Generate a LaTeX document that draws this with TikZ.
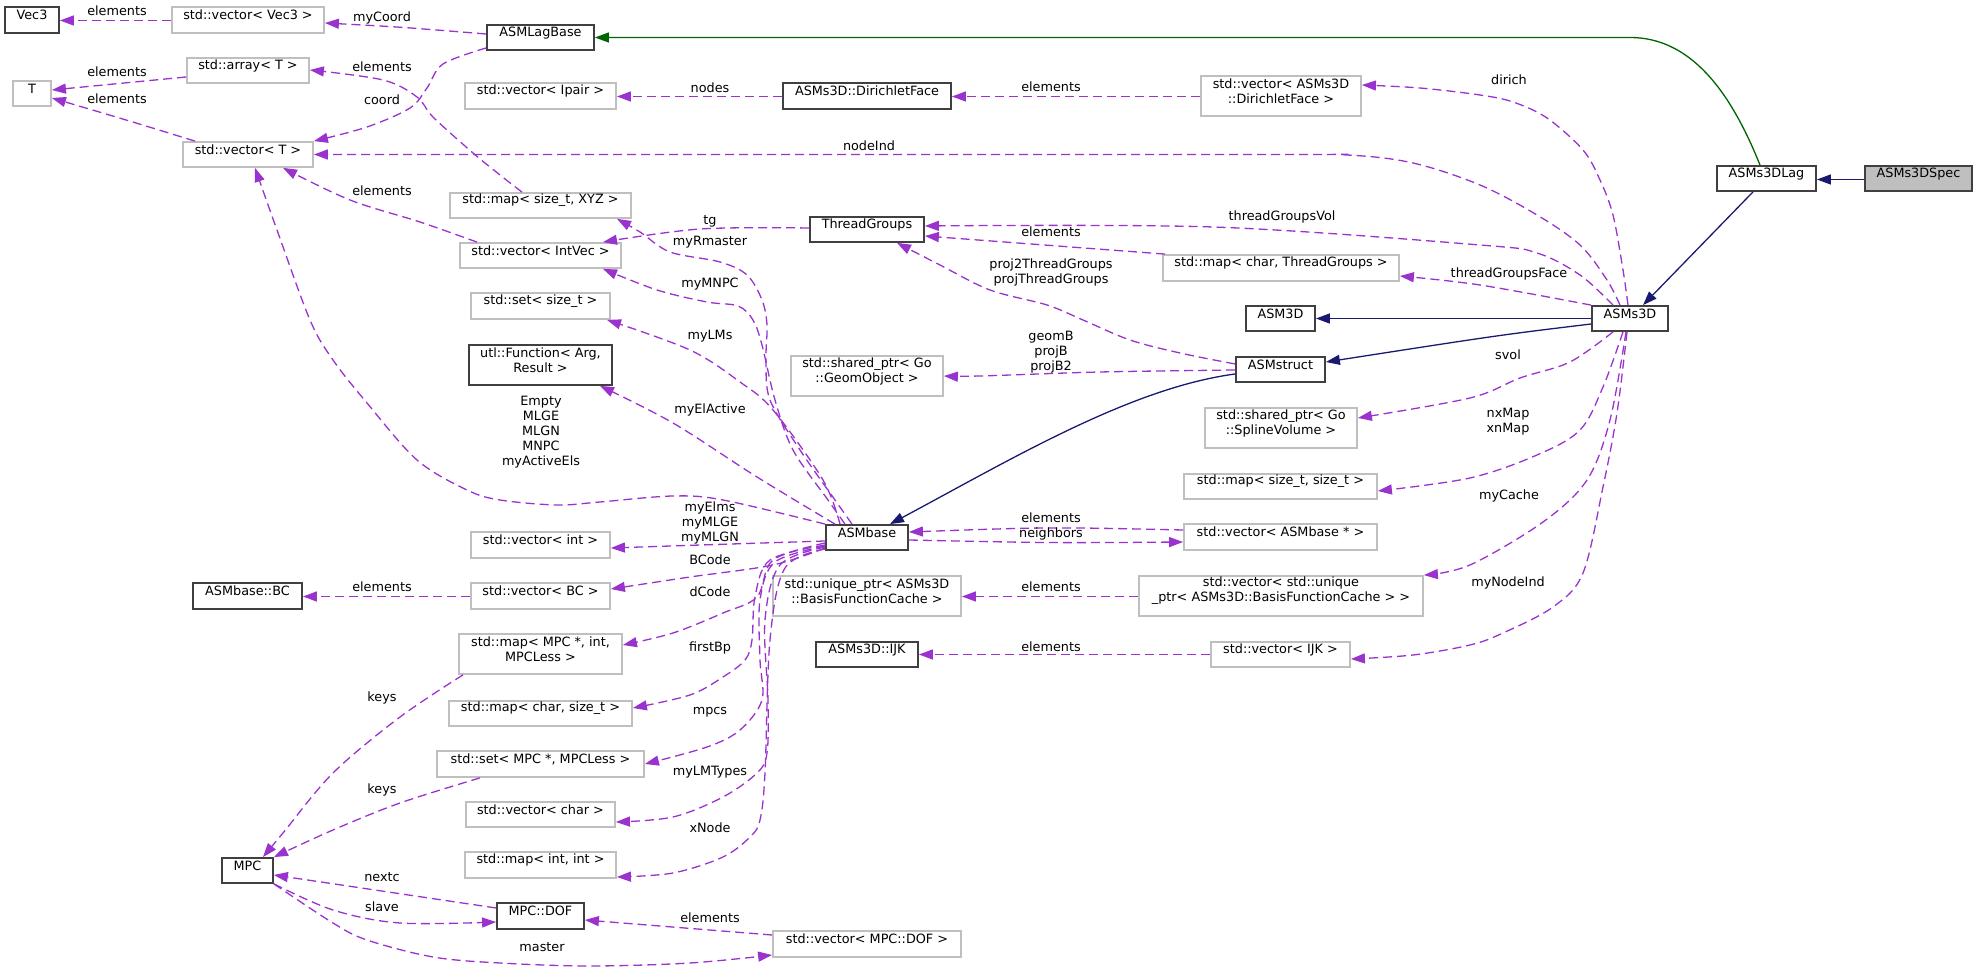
\documentclass[tikz,border=0pt]{standalone}
\usepackage{fontspec}
\setmainfont{DejaVu Sans}
\usetikzlibrary{arrows.meta,fit}
\definecolor{purp}{RGB}{154,50,205}
\definecolor{navyc}{RGB}{25,25,112}
\definecolor{greenc}{RGB}{0,100,0}
\definecolor{gbord}{RGB}{191,191,191}
\definecolor{bbord}{RGB}{64,64,64}
\begin{document}
\begin{tikzpicture}[x=0.5pt,y=-0.5pt,
  font=\fontsize{6.4}{7.5}\selectfont,
  bx/.style={draw=bbord,line width=0.9pt,fill=white,inner sep=0pt,align=center},
  gx/.style={draw=gbord,line width=0.9pt,fill=white,inner sep=0pt,align=center},
  lbl/.style={inner sep=0pt,align=center},
  dep/.style={draw=purp,line width=0.65pt,dash pattern=on 4.5pt off 2.5pt,-{Triangle[length=7pt,width=5pt]}},
  inh/.style={draw=navyc,line width=0.65pt,-{Triangle[length=7pt,width=5pt]}},
  inhg/.style={draw=greenc,line width=0.65pt,-{Triangle[length=7pt,width=5pt]}},
  sm/.style={smooth,tension=0.55}]
\useasboundingbox (0,0) rectangle (1977,972);
% ---------------- nodes ----------------
\node[bx,fit={(5,7)(59,33)}] (vec3) {Vec3};
\node[gx,fit={(172,7)(324,33)}] (vvec3) {std::vector< Vec3 >};
\node[bx,fit={(487,25)(594,50)}] (lagbase) {ASMLagBase};
\node[gx,fit={(187,58)(309,83)}] (arrT) {std::array< T >};
\node[gx,fit={(13,81)(51,106)}] (T) {T};
\node[gx,fit={(183,142)(313,167)}] (vecT) {std::vector< T >};
\node[gx,fit={(465,83)(616,109)}] (vipair) {std::vector< Ipair >};
\node[bx,fit={(783,83)(951,109)}] (dface) {ASMs3D::DirichletFace};
\node[gx,fit={(1201,76)(1361,116)}] (vdface) {std::vector< ASMs3D\\::DirichletFace >};
\node[gx,fit={(450,193)(631,218)}] (mapxyz) {std::map< size\_t, XYZ >};
\node[gx,fit={(460,243)(621,268)}] (vintvec) {std::vector< IntVec >};
\node[gx,fit={(471,293)(610,319)}] (setsize) {std::set< size\_t >};
\node[bx,fit={(810,217)(924,242)}] (tgroups) {ThreadGroups};
\node[gx,fit={(1163,255)(1399,281)}] (mapcharTG) {std::map< char, ThreadGroups >};
\node[bx,fit={(1246,306)(1315,331)}] (asm3d) {ASM3D};
\node[bx,fit={(1717,166)(1816,191)}] (lag) {ASMs3DLag};
\node[bx,fill=gbord,fit={(1865,166)(1972,191)}] (spec) {ASMs3DSpec};
\node[bx,fit={(1592,306)(1668,331)}] (asms3d) {ASMs3D};
\node[bx,fit={(469,345)(612,385)}] (func) {utl::Function< Arg,\\Result >};
\node[gx,fit={(791,356)(943,396)}] (geomobj) {std::shared\_ptr< Go\\::GeomObject >};
\node[bx,fit={(1236,357)(1325,382)}] (asmstruct) {ASMstruct};
\node[gx,fit={(1205,408)(1357,448)}] (splvol) {std::shared\_ptr< Go\\::SplineVolume >};
\node[gx,fit={(1184,474)(1377,499)}] (mapsize) {std::map< size\_t, size\_t >};
\node[gx,fit={(471,532)(610,558)}] (vint) {std::vector< int >};
\node[bx,fit={(826,525)(908,550)}] (asmbase) {ASMbase};
\node[gx,fit={(1184,524)(1377,550)}] (vasmbase) {std::vector< ASMbase * >};
\node[bx,fit={(193,583)(302,609)}] (bc) {ASMbase::BC};
\node[gx,fit={(471,583)(610,609)}] (vbc) {std::vector< BC >};
\node[gx,fit={(773,576)(961,616)}] (uptr) {std::unique\_ptr< ASMs3D\\::BasisFunctionCache >};
\node[gx,align=left,fit={(1139,576)(1423,616)}] (vuptr) {std::vector< std::unique\\\_ptr< ASMs3D::BasisFunctionCache > >};
\node[gx,fit={(459,634)(622,674)}] (mapmpc) {std::map< MPC *, int,\\MPCLess >};
\node[bx,fit={(816,642)(918,667)}] (ijk) {ASMs3D::IJK};
\node[gx,fit={(1211,642)(1350,667)}] (vijk) {std::vector< IJK >};
\node[gx,fit={(449,701)(632,726)}] (mapchar) {std::map< char, size\_t >};
\node[gx,fit={(437,751)(644,777)}] (setmpc) {std::set< MPC *, MPCLess >};
\node[gx,fit={(466,802)(615,827)}] (vchar) {std::vector< char >};
\node[gx,fit={(465,852)(616,878)}] (mapint) {std::map< int, int >};
\node[bx,fit={(222,858)(273,883)}] (mpc) {MPC};
\node[bx,fit={(497,903)(584,929)}] (dof) {MPC::DOF};
\node[gx,fit={(773,931)(961,957)}] (vdof) {std::vector< MPC::DOF >};
% ---------------- inheritance ----------------
\draw[inh] (spec.west |- 0,179.5) -- (lag.east |- 0,179.5);
\draw[inh] (lag.south -| 1753,0) -- (asms3d.north -| 1643,0);
\draw[inhg] (lag.north -| 1760,0) .. controls (1730,90) and (1690,37.5) .. (1630,37.5) -- (lagbase.east |- 0,37.5);
\draw[inh] (asms3d.west |- 0,318.5) -- (asm3d.east |- 0,318.5);
\draw[inh] (asms3d.west |- 0,324) .. controls (1500,335) .. (asmstruct.east |- 0,362);
\draw[inh] (asmstruct.west |- 0,374) .. controls (1130,388) and (1010,460) .. (asmbase.north -| 890,0);
% ---------------- usage edges ----------------
\draw[dep] (vvec3.west |- 0,20.5) -- (vec3.east |- 0,20.5);
\draw[dep] (lagbase.west |- 0,34) .. controls (400,27) .. (vvec3.east |- 0,23);
\draw[dep] plot[sm] coordinates {(lagbase.west |- 0,48) (443,64) (427,88) (410,108) (367,127) (vecT.north east)};
\draw[dep] (arrT.west |- 0,77) -- (T.east |- 0,90);
\draw[dep] (vecT.north -| 195,0) .. controls (133,122) .. (T.east |- 0,98);
\draw[dep] plot[sm] coordinates {(mapxyz.north -| 522,0) (500,175) (473,153) (433,117) (417,97) (383,80) (arrT.east |- 0,70)};
\draw[dep] plot[sm] coordinates {(vintvec.north -| 477,0) (420,222) (350,200) (vecT.south -| 283,0)};
\draw[dep] plot[sm] coordinates {(asms3d.north -| 1620,0) (1607,280) (1580,245) (1537,215) (1480,185) (1413,163) (1347,155) (1250,154.5) (vecT.east |- 0,154.5)};
\draw[dep] plot[sm] coordinates {(asms3d.north -| 1628,0) (1623,270) (1613,215) (1600,180) (1583,150) (1547,118) (1513,102) (1480,95) (1420,88) (vdface.east |- 0,85)};
\draw[dep] (vdface.west |- 0,96.5) -- (dface.east |- 0,96.5);
\draw[dep] (dface.west |- 0,96.5) -- (vipair.east |- 0,96.5);
\draw[dep] plot[sm] coordinates {(tgroups.west |- 0,228) (700,229) (vintvec.north -| 603,0)};
\draw[dep] plot[sm] coordinates {(asmbase.north -| 852,0) (835,500) (800,450) (770,400) (766,360) (767,325) (762,300) (747,275) (720,262) (670,252) (640,232) (mapxyz.south -| 617,0)};
\draw[dep] plot[sm] coordinates {(asmbase.north -| 845,0) (828,500) (793,450) (775,400) (762,345) (753,320) (738,306) (707,302) (657,290) (vintvec.south -| 603,0)};
\draw[dep] plot[sm] coordinates {(asmbase.north -| 840,0) (823,480) (773,410) (740,382) (690,350) (setsize.south -| 607,0)};
\draw[dep] plot[sm] coordinates {(asmbase.north -| 835,0) (757,477) (673,423) (func.south -| 600,0)};
\draw[dep] plot[sm] coordinates {(asmbase.north west) (723,500) (673,496) (600,502) (557,505) (500,500) (467,490) (417,460) (367,403) (333,360) (310,320) (277,230) (vecT.south -| 255,0)};
\draw[dep] (asmbase.west |- 0,541) .. controls (700,545) .. (vint.east |- 0,548);
\draw[dep] plot[sm] coordinates {(asmbase.west |- 0,548) (773,565) (690,577) (vbc.east |- 0,589)};
\draw[dep] (vbc.west |- 0,596.5) -- (bc.east |- 0,596.5);
\draw[dep] plot[sm] coordinates {(asmbase.west |- 0,543) (773,560) (757,597) (723,613) (673,633) (mapmpc.east |- 0,645)};
\draw[dep] plot[sm] coordinates {(asmbase.west |- 0,545) (770,560) (755,597) (752,640) (745,660) (723,677) (690,695) (mapchar.east |- 0,708)};
\draw[dep] plot[sm] coordinates {(asmbase.west |- 0,546) (775,562) (760,600) (760,660) (762,700) (740,730) (707,747) (setmpc.east |- 0,764)};
\draw[dep] plot[sm] coordinates {(asmbase.west |- 0,547) (780,565) (765,620) (768,700) (767,753) (757,773) (723,797) (673,817) (vchar.east |- 0,822)};
\draw[dep] plot[sm] coordinates {(asmbase.west |- 0,549) (785,568) (770,640) (765,773) (760,820) (750,837) (723,857) (673,873) (mapint.east |- 0,877)};
\draw[dep] (vasmbase.west |- 0,530) .. controls (1050,527) .. (asmbase.east |- 0,532);
\draw[dep] (asmbase.east |- 0,540) .. controls (1050,543) .. (vasmbase.west |- 0,542);
\draw[dep] plot[sm] coordinates {(asmstruct.west |- 0,370) (1100,372) (980,376) (geomobj.east |- 0,376)};
\draw[dep] plot[sm] coordinates {(asmstruct.west |- 0,364) (1180,353) (1130,340) (1083,320) (1047,305) (990,290) (940,265) (tgroups.south -| 897,0)};
\draw[dep] plot[sm] coordinates {(asms3d.south -| 1613,0) (1570,362) (1520,378) (1470,398) (splvol.east |- 0,418)};
\draw[dep] plot[sm] coordinates {(asms3d.south -| 1623,0) (1603,387) (1580,430) (1537,455) (1470,478) (mapsize.east |- 0,491)};
\draw[dep] plot[sm] coordinates {(asms3d.south -| 1626,0) (1610,420) (1587,480) (1543,522) (1470,565) (vuptr.north east)};
\draw[dep] (vuptr.west |- 0,596.5) -- (uptr.east |- 0,596.5);
\draw[dep] plot[sm] coordinates {(asms3d.south -| 1627,0) (1617,413) (1603,487) (1583,573) (1553,607) (1503,633) (1470,645) (1413,655) (vijk.east |- 0,659)};
\draw[dep] (vijk.west |- 0,654.5) -- (ijk.east |- 0,654.5);
\draw[dep] plot[sm] coordinates {(mapmpc.south -| 463,0) (400,717) (333,773) (283,833) (mpc.north -| 263,0)};
\draw[dep] plot[sm] coordinates {(setmpc.south -| 480,0) (400,803) (333,830) (mpc.north east)};
\draw[dep] (dof.west |- 0,908) -- (mpc.east |- 0,875);
\draw[dep] plot[sm] coordinates {(mpc.south east) (333,910) (400,923) (dof.west |- 0,922)};
\draw[dep] plot[sm] coordinates {(mpc.south east) (333,923) (367,940) (433,957) (500,963) (590,966) (690,963) (vdof.west |- 0,955)};
\draw[dep] (vdof.west |- 0,935) -- (dof.east |- 0,920);
\draw[dep] (mapcharTG.north -| 1165,0) -- (tgroups.east |- 0,236);
\draw[dep] plot[sm] coordinates {(asms3d.north -| 1613,0) (1580,275) (1537,253) (1480,245) (1213,227) (tgroups.east |- 0,226)};
\draw[dep] plot[sm] coordinates {(asms3d.north west) (1480,285) (mapcharTG.east |- 0,276)};
% ---------------- labels ----------------
\node[lbl] (l1) at (117,11) {elements};
\node[lbl] (l2) at (382,18) {myCoord};
\node[lbl] (l3) at (117,72) {elements};
\node[lbl] (l4) at (117,99) {elements};
\node[lbl] (l5) at (382,67) {elements};
\node[lbl] (l6) at (382,100) {coord};
\node[lbl] (l7) at (382,191) {elements};
\node[lbl] (l8) at (710,88) {nodes};
\node[lbl] (l9) at (1051,87) {elements};
\node[lbl] (l10) at (1509,80) {dirich};
\node[lbl] (l11) at (869,146) {nodeInd};
\node[lbl] (l12) at (710,221) {tg};
\node[lbl] (l13) at (710,242) {myRmaster};
\node[lbl] (l14) at (710,284) {myMNPC};
\node[lbl] (l15) at (1282,217) {threadGroupsVol};
\node[lbl] (l16) at (1051,232) {elements};
\node[lbl] (l17) at (1051,272) {proj2ThreadGroups\\projThreadGroups};
\node[lbl] (l18) at (1509,274) {threadGroupsFace};
\node[lbl] (l19) at (710,336) {myLMs};
\node[lbl] (l20) at (710,410) {myElActive};
\node[lbl] (l21) at (541,432) {Empty\\MLGE\\MLGN\\MNPC\\myActiveEls};
\node[lbl] (l22) at (1051,352) {geomB\\projB\\projB2};
\node[lbl] (l23) at (1508,355) {svol};
\node[lbl] (l24) at (1508,422) {nxMap\\xnMap};
\node[lbl] (l25) at (1509,496) {myCache};
\node[lbl] (l26) at (710,523) {myElms\\myMLGE\\myMLGN};
\node[lbl] (l27) at (1051,526) {elements\\neighbors};
\node[lbl] (l28) at (710,560) {BCode};
\node[lbl] (l29) at (382,587) {elements};
\node[lbl] (l30) at (1051,587) {elements};
\node[lbl] (l31) at (710,592) {dCode};
\node[lbl] (l32) at (1508,583) {myNodeInd};
\node[lbl] (l33) at (710,648) {firstBp};
\node[lbl] (l34) at (1051,647) {elements};
\node[lbl] (l35) at (382,698) {keys};
\node[lbl] (l36) at (710,712) {mpcs};
\node[lbl] (l37) at (710,772) {myLMTypes};
\node[lbl] (l38) at (382,790) {keys};
\node[lbl] (l39) at (710,828) {xNode};
\node[lbl] (l40) at (382,877) {nextc};
\node[lbl] (l41) at (382,907) {slave};
\node[lbl] (l42) at (710,918) {elements};
\node[lbl] (l43) at (542,947) {master};
\end{tikzpicture}
\end{document}
